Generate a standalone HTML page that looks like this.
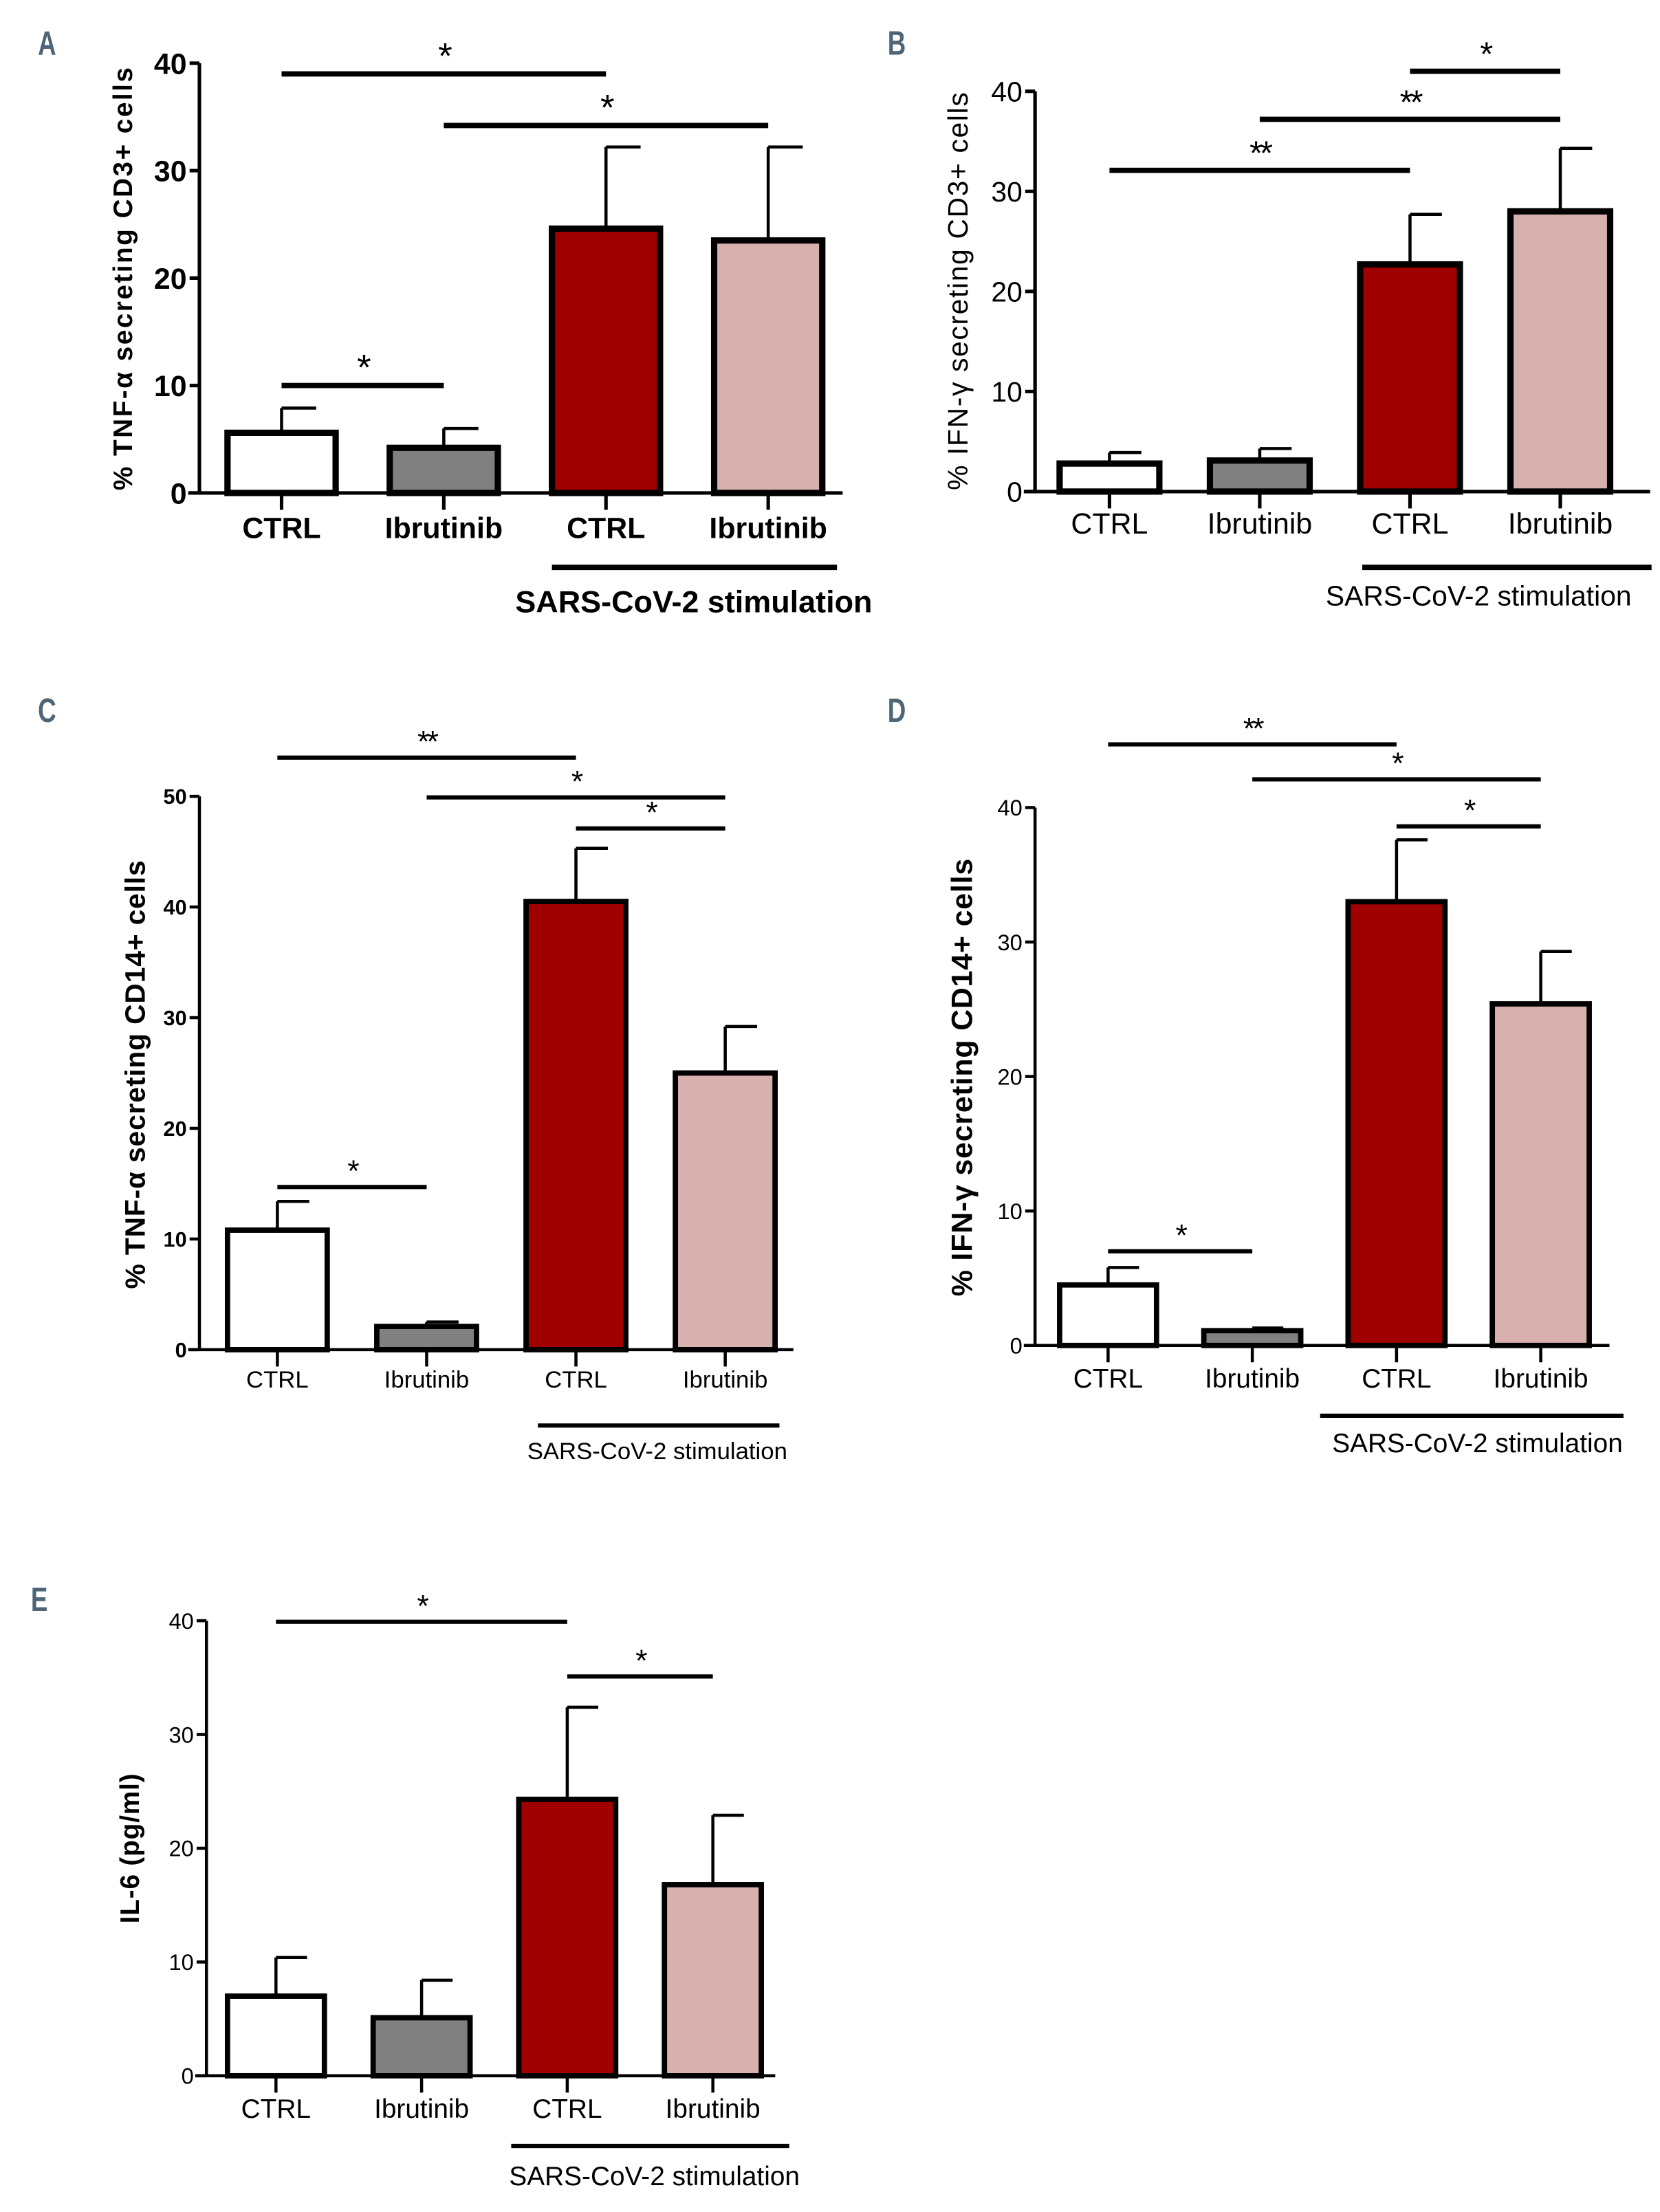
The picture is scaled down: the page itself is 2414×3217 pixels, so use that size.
<!DOCTYPE html>
<html><head><meta charset="utf-8">
<style>
html,body{margin:0;padding:0;background:#fff;}
svg{display:block;}
</style></head>
<body>
<svg id="fig" width="2414" height="3217" viewBox="0 0 1182 1575" preserveAspectRatio="none" xmlns="http://www.w3.org/2000/svg"></svg>
<script>
// ---- Data ----
const categories = ["CTRL","Ibrutinib","CTRL","Ibrutinib"];
const colors = ["#ffffff","#808080","#a00000","#d8b0ae"];

const aValues = [5.6, 4.2, 24.6, 23.5];
const aErrors = [2.3, 1.8, 7.6, 8.7];
const aTicks = [0,10,20,30,40];
const aSig = [[0,2,39,"*"],[1,3,34.2,"*"],[0,1,10,"*"]];

const bValues = [2.8, 3.1, 22.7, 28.0];
const bErrors = [1.1, 1.2, 5.0, 6.3];
const bTicks = [0,10,20,30,40];
const bSig = [[2,3,42,"*"],[1,3,37.2,"**"],[0,2,32.1,"**"]];

const cValues = [10.8, 2.1, 40.5, 25.0];
const cErrors = [2.6, 0.4, 4.8, 4.2];
const cTicks = [0,10,20,30,40,50];
const cSig = [[0,2,53.5,"**"],[1,3,49.9,"*"],[2,3,47.1,"*"],[0,1,14.7,"*"]];

const dValues = [4.5, 1.1, 33.0, 25.4];
const dErrors = [1.3, 0.2, 4.6, 3.9];
const dTicks = [0,10,20,30,40];
const dSig = [[0,2,44.7,"**"],[1,3,42.1,"*"],[2,3,38.6,"*"],[0,1,7,"*"]];

const eValues = [7.0, 5.1, 24.3, 16.8];
const eErrors = [3.4, 3.3, 8.1, 6.1];
const eTicks = [0,10,20,30,40];
const eSig = [[0,2,39.9,"*"],[2,3,35.1,"*"]];

const NS = "http://www.w3.org/2000/svg";
const svg = document.getElementById("fig");
function mk(tag, attrs, parent){
  const e = document.createElementNS(NS, tag);
  for (const k in attrs) e.setAttribute(k, attrs[k]);
  (parent||svg).appendChild(e);
  return e;
}
function txt(str, attrs, parent){ const t = mk("text", attrs, parent); t.textContent = str; return t; }

function panel(cfg, values, errors, ticks, sigs){
  const g = mk("g", {});
  
  
  const ymax = ticks[ticks.length-1];
  const yS = v => cfg.y0 - (cfg.y0 - cfg.yTop) * v / ymax;
  const bw = cfg.barW;
  const xC = i => cfg.x1 + i * cfg.step;
  const font = cfg.font;
  const L = txt(cfg.id, {x:cfg.lx, y:cfg.ly, "font-family":"Liberation Sans, sans-serif", "font-weight":"bold", "font-size":24, fill:"#4d6577", transform:`translate(${cfg.lx},0) scale(0.75,1) translate(${-cfg.lx},0)`}, g);
  
  
  values.forEach((v,i)=>{
    const x = xC(i);
    const eb = mk("line", {x1:x, x2:x, y1:yS(v), y2:yS(v+errors[i]), stroke:"#000", "stroke-width":cfg.ew}, g);
    
    
    const ec = mk("line", {x1:x, x2:x+bw*0.32, y1:yS(v+errors[i]), y2:yS(v+errors[i]), stroke:"#000", "stroke-width":cfg.ew}, g);
    
    
    const r = mk("rect", {x:x-bw/2, y:yS(v), width:bw, height:cfg.y0-yS(v), fill:colors[i], stroke:"#000", "stroke-width":cfg.bs}, g);
    
    
  });
  const ya = mk("line", {x1:cfg.ax, x2:cfg.ax, y1:cfg.y0, y2:cfg.yTop, stroke:"#000", "stroke-width":cfg.aw}, g);
  
  
  const xa = mk("line", {x1:cfg.ax-8, x2:cfg.axEnd, y1:cfg.y0, y2:cfg.y0, stroke:"#000", "stroke-width":cfg.aw}, g);
  
  
  ticks.forEach(t=>{
    mk("line", {x1:cfg.ax-7, x2:cfg.ax, y1:yS(t), y2:yS(t), stroke:"#000", "stroke-width":cfg.aw}, g);
    const tl = txt(String(t), {x:cfg.ax-9, y:yS(t)+cfg.tickFs*0.36, "text-anchor":"end", "font-family":font, "font-weight":cfg.tickW, "font-size":cfg.tickFs}, g);
    
    
  });
  categories.forEach((c,i)=>{
    mk("line", {x1:xC(i), x2:xC(i), y1:cfg.y0, y2:cfg.y0+12, stroke:"#000", "stroke-width":cfg.aw}, g);
    const cl = txt(c, {x:xC(i), y:cfg.labY, "text-anchor":"middle", "font-family":font, "font-weight":cfg.labW, "font-size":cfg.labFs}, g);
    
    
  });
  const yt = txt(cfg.ytitle, {x:0, y:0, "text-anchor":"middle", "font-family":"Liberation Sans, sans-serif", "font-weight":cfg.ytW, "font-size":cfg.ytFs, "letter-spacing":cfg.ytLs, transform:`translate(${cfg.ytx},${cfg.yty}) rotate(-90)`}, g);
  
  
  sigs.forEach(s=>{
    const y = yS(s[2]);
    const sl = mk("line", {x1:xC(s[0]), x2:xC(s[1]), y1:y, y2:y, stroke:"#000", "stroke-width":cfg.sw}, g);
    
    
    const st = txt(s[3], {x:(xC(s[0])+xC(s[1]))/2, y:y-4, "text-anchor":"middle", "font-family":"Liberation Sans, sans-serif", "font-size":cfg.starFs, "letter-spacing":-2}, g);
    
    
  });
  const gl = mk("line", {x1:cfg.gx1, x2:cfg.gx2, y1:cfg.gy, y2:cfg.gy, stroke:"#000", "stroke-width":cfg.gw}, g);
  
  
  const gt = txt("SARS-CoV-2 stimulation", {x:cfg.gtx, y:cfg.gty, "text-anchor":cfg.gta||"middle", "font-family":font, "font-weight":cfg.labW, "font-size":cfg.gFs}, g);
  
  
}

const narrow = "Liberation Sans Narrow, Liberation Sans, sans-serif";
const reg = "Liberation Sans, sans-serif";

panel({id:"A", lx:27, ly:39, ax:142, axEnd:600, y0:351, yTop:45, x1:200.5, step:115.5, barW:77,
  bs:4.5, ew:2.2, aw:2.5, sw:3.8, gw:3.8, font:narrow, tickW:"bold", tickFs:21, labW:"bold", labFs:21,
  ytitle:"% TNF-\u03b1 secreting CD3+ cells", ytx:94, yty:198, ytW:"bold", ytFs:19, ytLs:1.2,
  starFs:26, labY:383, gx1:393, gx2:596, gy:404, gtx:494, gty:436, gFs:22}, aValues, aErrors, aTicks, aSig);

panel({id:"B", lx:632, ly:39, ax:737, axEnd:1175, y0:350, yTop:65, x1:790, step:107, barW:71,
  bs:4.5, ew:2.2, aw:2.5, sw:3.8, gw:3.8, font:narrow, tickW:"normal", tickFs:20, labW:"normal", labFs:21,
  ytitle:"% IFN-\u03b3 secreting CD3+ cells", ytx:689, yty:207, ytW:"normal", ytFs:20, ytLs:0.8,
  starFs:24, labY:380, gx1:970, gx2:1176, gy:404, gtx:944, gty:431, gta:"start", gFs:20}, bValues, bErrors, bTicks, bSig);

panel({id:"C", lx:27, ly:514, ax:142, axEnd:565, y0:961, yTop:567, x1:197.5, step:106.3, barW:71,
  bs:3.8, ew:2.2, aw:2.2, sw:3, gw:3, font:reg, tickW:"bold", tickFs:15, labW:"normal", labFs:17,
  ytitle:"% TNF-\u03b1 secreting CD14+ cells", ytx:103, yty:765, ytW:"bold", ytFs:20, ytLs:0.4,
  starFs:22, labY:988, gx1:383, gx2:555, gy:1015, gtx:468, gty:1039, gFs:17}, cValues, cErrors, cTicks, cSig);

panel({id:"D", lx:632, ly:514, ax:737, axEnd:1146, y0:958, yTop:575, x1:789, step:102.7, barW:69,
  bs:3.8, ew:2.2, aw:2.2, sw:3, gw:3, font:reg, tickW:"normal", tickFs:16, labW:"normal", labFs:19,
  ytitle:"% IFN-\u03b3 secreting CD14+ cells", ytx:692, yty:767, ytW:"bold", ytFs:21, ytLs:0.4,
  starFs:22, labY:988, gx1:940, gx2:1156, gy:1008, gtx:1052, gty:1034, gFs:19}, dValues, dErrors, dTicks, dSig);

panel({id:"E", lx:22, ly:1147, ax:147, axEnd:552, y0:1478, yTop:1154, x1:196.5, step:103.7, barW:69,
  bs:3.8, ew:2.2, aw:2.2, sw:3, gw:3, font:reg, tickW:"normal", tickFs:16, labW:"normal", labFs:19,
  ytitle:"IL-6 (pg/ml)", ytx:99, yty:1316, ytW:"bold", ytFs:19, ytLs:0.4,
  starFs:22, labY:1508, gx1:364, gx2:562, gy:1528, gtx:466, gty:1556, gFs:19}, eValues, eErrors, eTicks, eSig);
</script>
</body></html>
